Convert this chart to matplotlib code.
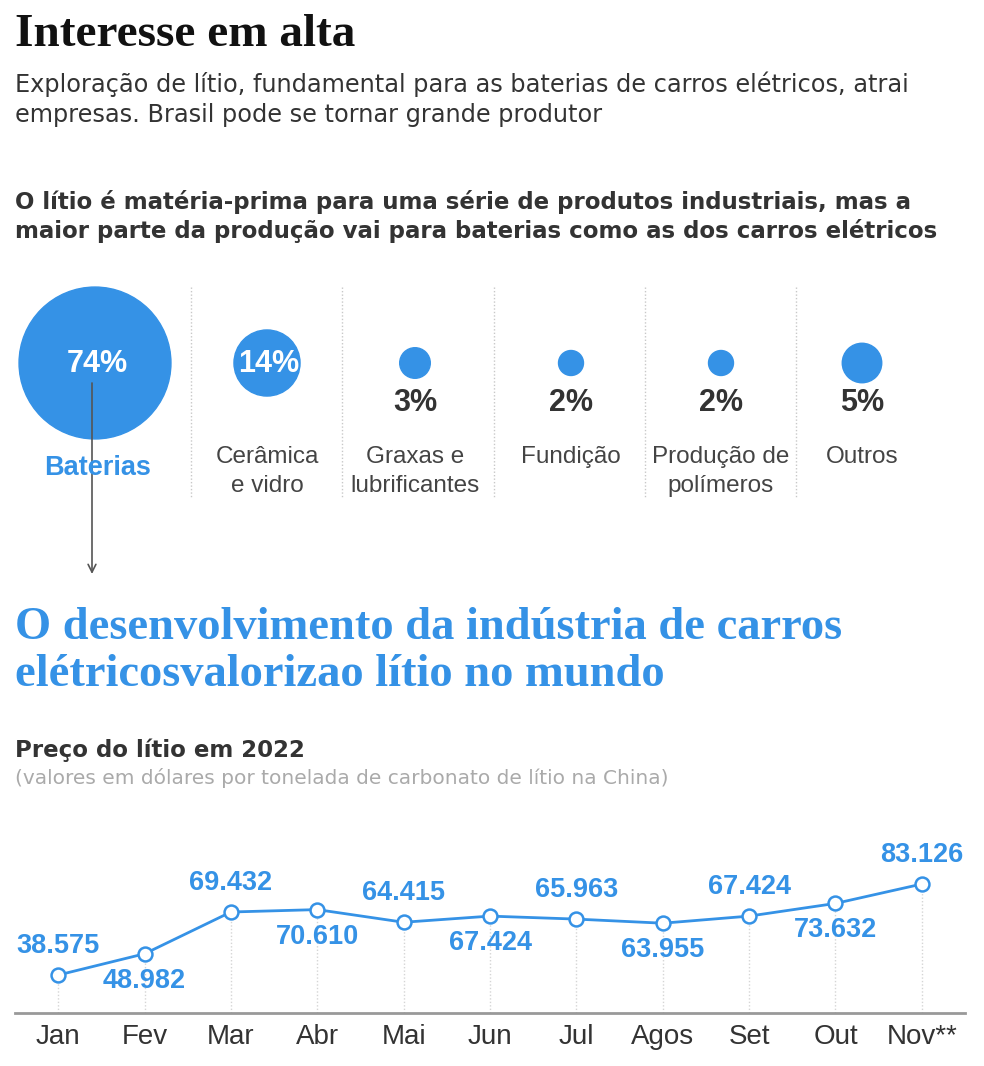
import matplotlib
matplotlib.use("Agg")
import matplotlib.pyplot as plt
from matplotlib.patches import Circle
import numpy as np

# ---------------- data ----------------
uses_labels = ["Baterias", "Cerâmica\ne vidro", "Graxas e\nlubrificantes", "Fundição",
               "Produção de\npolímeros", "Outros"]
uses_share = [74, 14, 3, 2, 2, 5]

months = ["Jan", "Fev", "Mar", "Abr", "Mai", "Jun", "Jul", "Agos", "Set", "Out", "Nov**"]
prices = [38.575, 48.982, 69.432, 70.610, 64.415, 67.424, 65.963, 63.955, 67.424, 73.632, 83.126]
price_labels = ["38.575", "48.982", "69.432", "70.610", "64.415", "67.424", "65.963",
                "63.955", "67.424", "73.632", "83.126"]

# ---------------- style ----------------
W, H = 984, 1066
BLUE = "#3592e6"
DARK = "#333333"
GRAY = "#444444"
LIGHT = "#aaaaaa"
SANS = "Liberation Sans"
WIDE = "DejaVu Sans"
SERIF = "Liberation Serif"

fig = plt.figure(figsize=(W / 100, H / 100), dpi=100)
fig.patch.set_facecolor("white")

# overlay axes in pixel coordinates
ov = fig.add_axes([0, 0, 1, 1])
ov.set_xlim(0, W)
ov.set_ylim(H, 0)
ov.axis("off")

def txt(x, y, s, **kw):
    kw.setdefault("family", SANS)
    kw.setdefault("color", DARK)
    kw.setdefault("va", "baseline")
    ov.text(x, y, s, **kw)

# headings
txt(15, 46, "Interesse em alta", family=SERIF, fontweight="bold", fontsize=34, color="#111111")
txt(15, 92, "Exploração de lítio, fundamental para as baterias de carros elétricos, atrai",
    family=WIDE, fontsize=17.25, color=DARK)
txt(15, 122, "empresas. Brasil pode se tornar grande produtor", family=WIDE, fontsize=17.25,
    color=DARK)
txt(15, 209, "O lítio é matéria-prima para uma série de produtos industriais, mas a",
    family=WIDE, fontsize=16.45, fontweight="bold", color=DARK)
txt(15, 238, "maior parte da produção vai para baterias como as dos carros elétricos",
    family=WIDE, fontsize=16.45, fontweight="bold", color=DARK)

# bubble row
col_x = [95, 267, 415, 571, 721, 862]
cy = 363
for xd in [191, 342, 494, 645, 796]:
    ov.plot([xd, xd], [287, 497], ls=(0, (1, 1.5)), color="#c8c8c8", lw=1)

for i, (lab, p) in enumerate(zip(uses_labels, uses_share)):
    r = 8.83 * np.sqrt(p)
    ov.add_patch(Circle((col_x[i], cy), r, color=BLUE, zorder=2))
    if p >= 10:
        ov.text(col_x[i] + 2, cy + 1, f"{p}%", ha="center", va="center", family=SANS,
                fontweight="bold", fontsize=22, color="white", zorder=4)
    else:
        ov.text(col_x[i], 403, f"{p}%", ha="center", va="center", family=SANS,
                fontweight="bold", fontsize=22, color=DARK, zorder=4)
    if i == 0:
        ov.text(col_x[i] + 3, 468, lab, ha="center", va="center", family=SANS,
                fontweight="bold", fontsize=19.5, color=BLUE, zorder=4)
    else:
        for j, line in enumerate(lab.split("\n")):
            ov.text(col_x[i], 457 + 29 * j, line, ha="center", va="center", family=SANS,
                    fontsize=17.5, color=GRAY, zorder=4)

# arrow
ov.annotate("", xy=(92, 574), xytext=(92, 383),
            arrowprops=dict(arrowstyle="->", color="#555555", lw=1.2,
                            mutation_scale=14, shrinkA=0, shrinkB=0), zorder=3)

# blue heading
txt(15, 639, "O desenvolvimento da indústria de carros", family=SERIF,
    fontweight="bold", fontsize=33.5, color=BLUE)
txt(15, 686, "elétricosvalorizao lítio no mundo", family=SERIF,
    fontweight="bold", fontsize=33.5, color=BLUE)

txt(15, 757, "Preço do lítio em 2022", family=WIDE, fontsize=16.45, fontweight="bold",
    color=DARK)
txt(15, 784, "(valores em dólares por tonelada de carbonato de lítio na China)",
    family=WIDE, fontsize=14.5, color=LIGHT)

# ---------------- line chart ----------------
y0, y1 = 20, 110
bottom_px = 1013
px_per_unit = 2.043
ax = fig.add_axes([15 / W, (H - bottom_px) / H, 950 / W, (y1 - y0) * px_per_unit / H])
ax.set_xlim(-0.5, len(months) - 0.5)
ax.set_ylim(y0, y1)
x = np.arange(len(months))

ax.vlines(x, y0, prices, colors="#d5d5d5", linestyles=(0, (1, 1.5)), lw=1, zorder=1)
ax.plot(x, prices, color=BLUE, lw=2, marker="o", ms=10, mfc="white", mec=BLUE,
        mew=1.8, zorder=3, clip_on=False)

for i, (v, s) in enumerate(zip(prices, price_labels)):
    off = 29 if i % 2 == 0 else -27
    ax.annotate(s, (i, v), xytext=(0, off), textcoords="offset pixels",
                ha="center", va="center", family=SANS, fontweight="bold",
                fontsize=19.5, color=BLUE, zorder=4)

for sp in ["top", "right", "left"]:
    ax.spines[sp].set_visible(False)
ax.spines["bottom"].set_color("#999999")
ax.spines["bottom"].set_linewidth(2)
ax.set_yticks([])
ax.set_xticks(x)
ax.set_xticklabels(months, family=SANS, fontsize=20, color=DARK)
ax.tick_params(axis="x", length=0, pad=8)
ax.patch.set_alpha(0)

fig.savefig("out.png", dpi=100, facecolor="white")
